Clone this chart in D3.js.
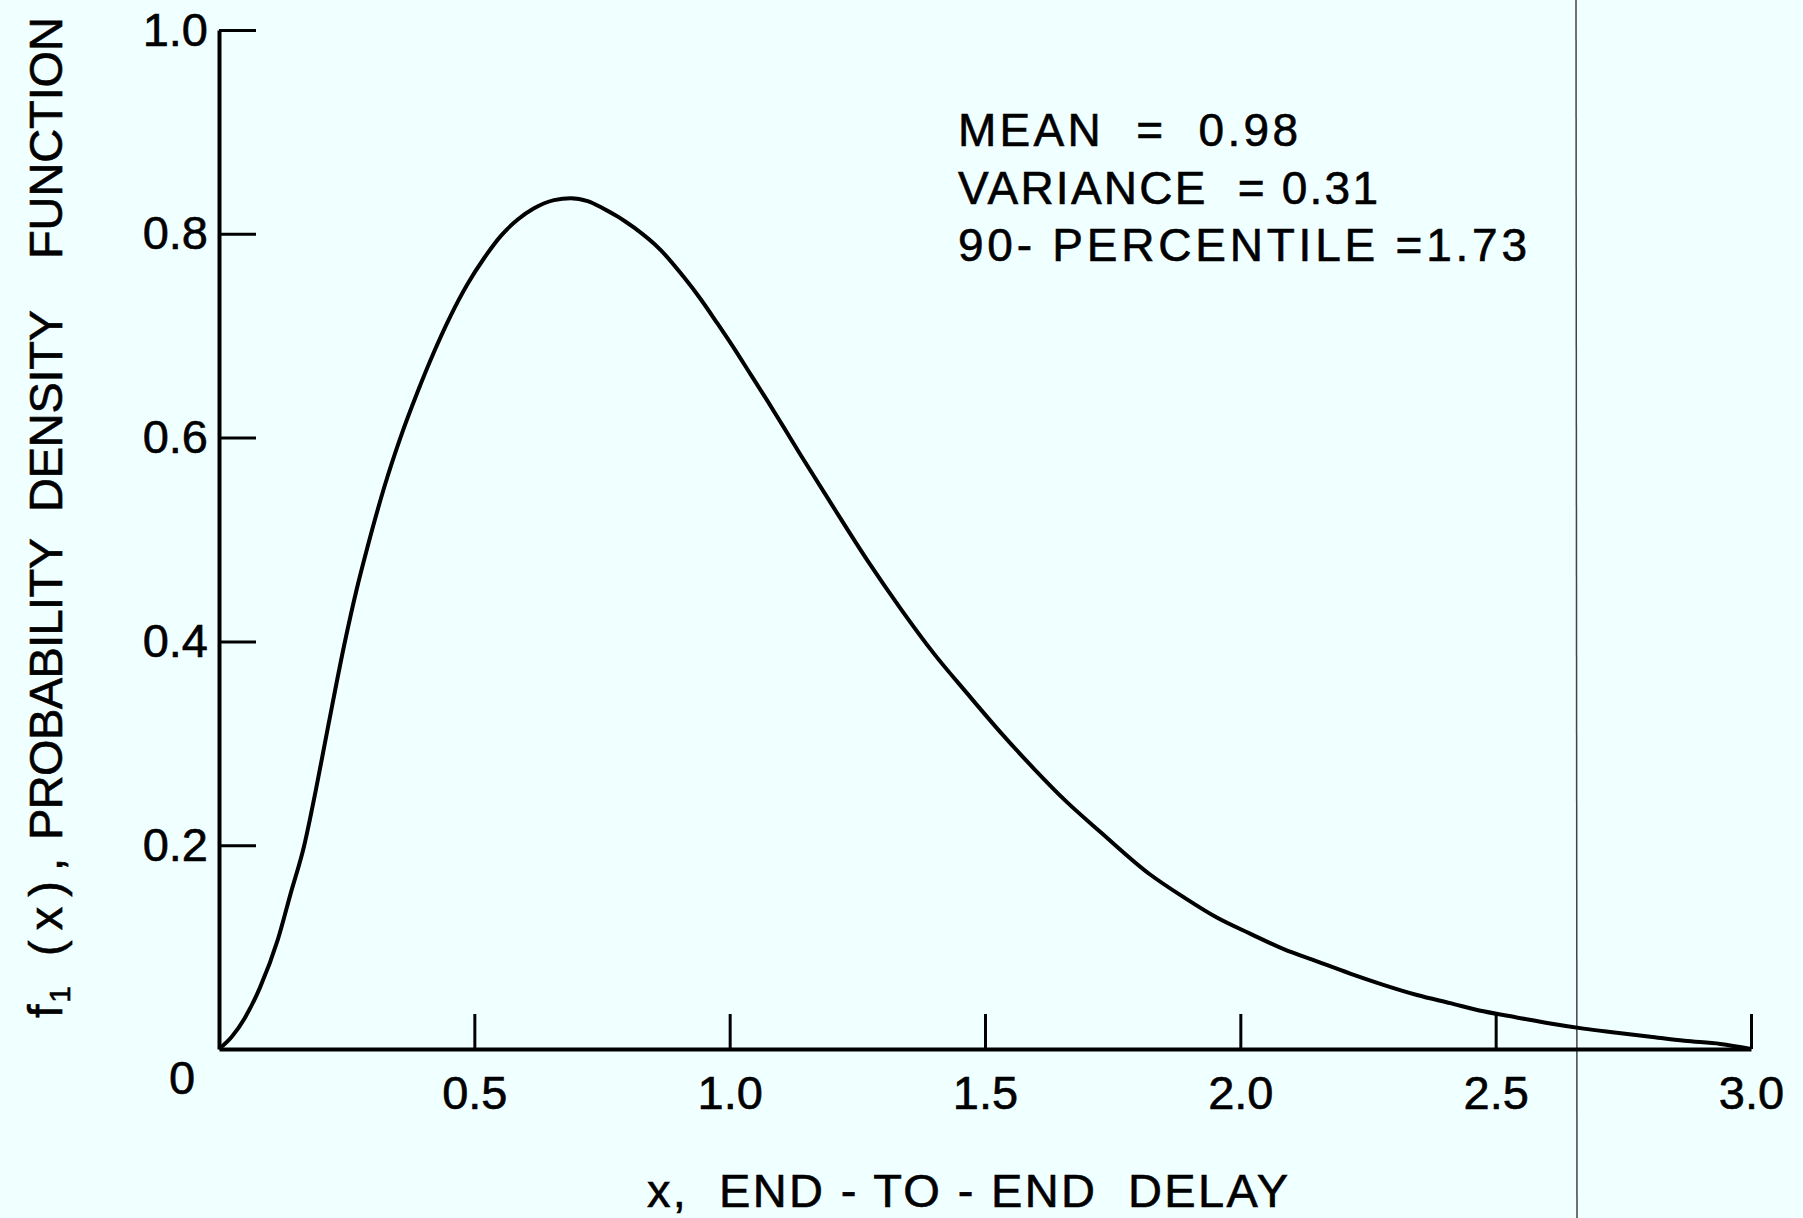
<!DOCTYPE html>
<html>
<head>
<meta charset="utf-8">
<script src="https://cdn.jsdelivr.net/npm/d3@7"></script>
<style>
  html, body { margin: 0; padding: 0; background: #f0ffff; }
  text { font-family: "Liberation Sans", Arial, sans-serif; fill: #000; white-space: pre; }
</style>
</head>
<body>
<svg id="chart" width="1803" height="1218"></svg>
<script>
// tick values and labels
var xTickVals = [0.5, 1.0, 1.5, 2.0, 2.5, 3.0];
var yTickVals = [0.2, 0.4, 0.6, 0.8, 1.0];
var originLabel = "0";

// delay x and density f1(x)
var delayX = [0, 0.025, 0.05, 0.08, 0.115, 0.14, 0.167, 0.19, 0.215, 0.245, 0.27, 0.291,
  0.324, 0.356, 0.389, 0.421, 0.454, 0.487, 0.519, 0.552, 0.585, 0.617, 0.656, 0.689,
  0.722, 0.748, 0.813, 0.865, 0.911, 0.943, 0.976, 1.008, 1.041, 1.074, 1.106, 1.139,
  1.204, 1.269, 1.335, 1.4, 1.465, 1.53, 1.596, 1.661, 1.726, 1.824, 1.889, 1.954,
  2.02, 2.085, 2.15, 2.215, 2.28, 2.346, 2.411, 2.476, 2.541, 2.607, 2.672, 2.737,
  2.803, 2.87, 2.94, 3.0];
var density = [0, 0.012, 0.03, 0.06, 0.107, 0.152, 0.2, 0.255, 0.32, 0.396, 0.452, 0.493,
  0.552, 0.601, 0.645, 0.684, 0.72, 0.751, 0.776, 0.798, 0.814, 0.825, 0.833, 0.835,
  0.832, 0.826, 0.806, 0.784, 0.757, 0.736, 0.712, 0.688, 0.662, 0.636, 0.61, 0.583,
  0.531, 0.48, 0.432, 0.388, 0.349, 0.311, 0.275, 0.242, 0.213, 0.171, 0.149, 0.129,
  0.113, 0.098, 0.086, 0.074, 0.063, 0.053, 0.045, 0.037, 0.031, 0.025, 0.02, 0.016,
  0.012, 0.008, 0.005, 0];

var statLines = ["MEAN  =  0.98", "VARIANCE  = 0.31", "90- PERCENTILE =1.73"];
var statWidths = [340, 420, 569];

var yTitleParts = ["(x),", "PROBABILITY", "DENSITY", "FUNCTION"];
var yTitleStart = [62, 178, 506, 759];
var yTitleWidth = [98, 302, 202, 242];

var svg = d3.select("#chart");
svg.append("rect").attr("width", 1803).attr("height", 1218).attr("fill", "#f0ffff");

var x = d3.scaleLinear().domain([0, 3]).range([219, 1751]);
var y = d3.scaleLinear().domain([0, 1]).range([1049, 30]);

// stretch a text to a measured width with letter spacing
function fit(sel, w) {
  var n = sel.node().textContent.length;
  var cur = sel.node().getComputedTextLength();
  sel.attr("letter-spacing", (w - cur) / (n - 1));
}

// scanner line crossing the sheet
svg.append("line").attr("x1", 1576).attr("x2", 1577).attr("y1", 0).attr("y2", 1218)
  .attr("stroke", "#444").attr("stroke-width", 1.5);

var xAxis = d3.axisBottom(x).tickValues(xTickVals).tickSize(-35).tickSizeOuter(0)
  .tickPadding(27).tickFormat(d3.format(".1f"));
var gx = svg.append("g").attr("transform", "translate(0," + y(0) + ")").call(xAxis);

var yAxis = d3.axisLeft(y).tickValues(yTickVals).tickSize(-37).tickSizeOuter(0)
  .tickPadding(11).tickFormat(d3.format(".1f"));
var gy = svg.append("g").attr("transform", "translate(" + x(0) + ",0)").call(yAxis);

[gx, gy].forEach(function (g) {
  g.select(".domain").attr("stroke", "#000").attr("stroke-width", 4);
  g.selectAll(".tick line").attr("stroke", "#000").attr("stroke-width", 3);
  g.selectAll(".tick text").attr("font-family", "DejaVu Sans, sans-serif")
    .attr("font-size", 47).attr("fill", "#000")
    .attr("stroke", "#000").attr("stroke-width", 0.6);
});

svg.append("text").attr("x", 182).attr("y", 1078).attr("dy", "0.35em")
  .attr("text-anchor", "middle").attr("font-family", "DejaVu Sans, sans-serif")
  .attr("font-size", 47).attr("stroke", "#000").attr("stroke-width", 0.6)
  .text(originLabel);

var line = d3.line()
  .x(function (d, i) { return x(delayX[i]); })
  .y(function (d) { return y(d); })
  .curve(d3.curveMonotoneX);

svg.append("path").datum(density).attr("d", line)
  .attr("fill", "none").attr("stroke", "#000").attr("stroke-width", 4)
  .attr("stroke-linejoin", "round");

// statistics box
statLines.forEach(function (s, i) {
  var t = svg.append("text").attr("x", 958).attr("y", 146 + i * 57.5)
    .attr("font-size", 46).attr("stroke", "#000").attr("stroke-width", 0.6).text(s);
  fit(t, statWidths[i]);
});

// x axis title
var xt = svg.append("text").attr("x", 647).attr("y", 1207).attr("font-size", 47)
  .attr("stroke", "#000").attr("stroke-width", 0.6)
  .text("x,  END - TO - END  DELAY");
fit(xt, 641);

// y axis title, word by word up the left side
var gt = svg.append("g").attr("transform", "translate(62,1018) rotate(-90)");
var f1 = gt.append("text").attr("x", 0).attr("y", 0).attr("font-size", 48)
  .attr("stroke", "#000").attr("stroke-width", 0.6);
f1.append("tspan").text("f");
f1.append("tspan").attr("font-size", 30).attr("dy", 8).attr("dx", 2).text("1");
yTitleParts.forEach(function (s, i) {
  var t = gt.append("text").attr("x", yTitleStart[i]).attr("y", 0).attr("font-size", 47)
    .attr("stroke", "#000").attr("stroke-width", 0.6).text(s);
  fit(t, yTitleWidth[i]);
});
</script>
</body>
</html>
